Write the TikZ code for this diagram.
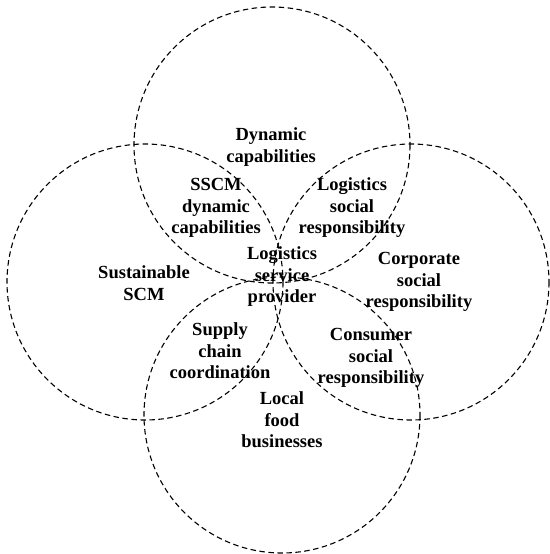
\documentclass[tikz,border=0pt]{standalone}
\usepackage{fontspec}
\setmainfont{Liberation Serif}
\begin{document}
\begin{tikzpicture}[x=1pt,y=-1pt,
  ring/.style={draw=black, line width=1.1pt, dash pattern=on 5.5pt off 3.5pt},
  lbl/.style={align=center, inner sep=0pt, font=\bfseries\fontsize{18.5}{21.5}\selectfont}]
\useasboundingbox (0,0) rectangle (549,554);
% circles
\draw[ring] (272,145) circle[radius=138];
\draw[ring] (145,282) circle[radius=138];
\draw[ring] (411,282) circle[radius=138];
\draw[ring] (282,415) circle[radius=138];
% labels
\node[lbl] (dc) at (271,147) {Dynamic\\capabilities};
\node[lbl] (sdc) at (216,208) {SSCM\\dynamic\\capabilities};
\node[lbl] (lsr) at (352,208) {Logistics\\social\\responsibility};
\node[lbl] (lsp) at (282,277) {Logistics\\service\\provider};
\node[lbl] (sscm) at (144,283) {Sustainable\\SCM};
\node[lbl] (csr) at (419,282) {Corporate\\social\\responsibility};
\node[lbl] (scc) at (220,351) {Supply\\chain\\coordination};
\node[lbl] (consr) at (371,358) {Consumer\\social\\responsibility};
\node[lbl] (lfb) at (282,420) {Local\\food\\businesses};
\end{tikzpicture}
\end{document}
